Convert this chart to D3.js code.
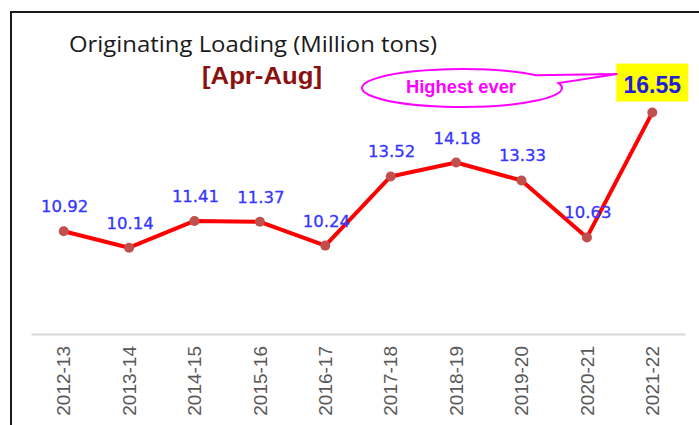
<!DOCTYPE html>
<html>
<head>
<meta charset="utf-8">
<script src="https://cdn.jsdelivr.net/npm/d3@7"></script>
<style>
  body { margin: 0; background: #fff; }
  svg { display: block; }
</style>
</head>
<body>
<div class="chart"></div>
<script>
var svgWidth = 699;
var svgHeight = 425;

// Data
var years = ["2012-13", "2013-14", "2014-15", "2015-16", "2016-17",
             "2017-18", "2018-19", "2019-20", "2020-21", "2021-22"];
var loading = [10.92, 10.14, 11.41, 11.37, 10.24, 13.52, 14.18, 13.33, 10.63, 16.55];
var yDomain = [6, 18];

var data = years.map(function (y, i) { return { year: y, value: loading[i] }; });
var last = data[data.length - 1];

var svg = d3.select(".chart")
  .append("svg")
  .attr("width", svgWidth)
  .attr("height", svgHeight);

// frame (left + top border)
svg.append("path")
  .attr("d", "M11,425 L11,12 L699,12")
  .attr("fill", "none")
  .attr("stroke", "#1a1a1a")
  .attr("stroke-width", 2);

// scales
var xScale = d3.scaleBand()
  .domain(years)
  .range([31, 685]);

var yScale = d3.scaleLinear()
  .domain(yDomain)
  .range([335, 82]);

var cx = function (d) { return xScale(d.year) + xScale.bandwidth() / 2; };

// category axis
var bottomAxis = d3.axisBottom(xScale).tickSize(0).tickPadding(0);
var axisG = svg.append("g")
  .attr("transform", "translate(0, 334)")
  .call(bottomAxis);
axisG.select(".domain")
  .attr("stroke", "#d9d9d9")
  .attr("stroke-width", 2);
axisG.selectAll(".tick text")
  .attr("transform", "translate(0, 12) rotate(-90)")
  .attr("text-anchor", "end")
  .attr("x", 0)
  .attr("y", 0)
  .attr("dy", "0.35em")
  .attr("fill", "#595959")
  .style("font-family", "Liberation Sans, Arial, sans-serif")
  .style("font-size", "19px");

// line
var line = d3.line()
  .x(cx)
  .y(function (d) { return yScale(d.value); });

svg.append("path")
  .datum(data)
  .attr("d", line)
  .attr("fill", "none")
  .attr("stroke", "#ff0000")
  .attr("stroke-width", 4)
  .attr("stroke-linejoin", "round");

svg.selectAll("circle.pt")
  .data(data)
  .enter()
  .append("circle")
  .attr("class", "pt")
  .attr("cx", cx)
  .attr("cy", function (d) { return yScale(d.value); })
  .attr("r", 5)
  .attr("fill", "#c0504d");

// data labels
svg.selectAll("text.lbl")
  .data(data.slice(0, data.length - 1))
  .enter()
  .append("text")
  .attr("class", "lbl")
  .attr("x", function (d) { return cx(d) + 1; })
  .attr("y", function (d) { return yScale(d.value) - 19; })
  .attr("text-anchor", "middle")
  .attr("fill", "#3535ff")
  .attr("stroke", "#3535ff")
  .attr("stroke-width", 0.3)
  .style("font-family", "DejaVu Sans, sans-serif")
  .style("font-size", "16.5px")
  .text(function (d) { return d.value.toFixed(2); });

// highlighted last label
var hx = cx(last);
var hy = yScale(last.value);
svg.append("rect")
  .attr("x", hx - 36)
  .attr("y", hy - 49)
  .attr("width", 72)
  .attr("height", 38)
  .attr("fill", "#ffff00");
svg.append("text")
  .attr("x", hx)
  .attr("y", hy - 20)
  .attr("text-anchor", "middle")
  .attr("fill", "#2020d8")
  .style("font-family", "Liberation Sans, Arial, sans-serif")
  .style("font-weight", "bold")
  .style("font-size", "23px")
  .text(last.value.toFixed(2));

// callout
var ecx = 462, ecy = 88, erx = 100, ery = 19;
function ept(deg) {
  var a = deg * Math.PI / 180;
  return [ecx + erx * Math.cos(a), ecy - ery * Math.sin(a)];
}
var p1 = ept(42), p2 = ept(15);
var tip = [hx - 35, 74];
svg.append("path")
  .attr("d", "M" + p1 + " L" + tip + " L" + p2 +
    " A" + erx + "," + ery + " 0 1 1 " + p1 + " Z")
  .attr("fill", "#fff")
  .attr("stroke", "#ff00ff")
  .attr("stroke-width", 2);
svg.append("text")
  .attr("x", 461)
  .attr("y", 93)
  .attr("text-anchor", "middle")
  .attr("fill", "#ff00ff")
  .attr("textLength", 110)
  .attr("lengthAdjust", "spacingAndGlyphs")
  .style("font-family", "Liberation Sans, Arial, sans-serif")
  .style("font-weight", "bold")
  .style("font-size", "18px")
  .text("Highest ever");

// titles
svg.append("text")
  .attr("x", 253)
  .attr("y", 52)
  .attr("text-anchor", "middle")
  .attr("fill", "#1a1a1a")
  .attr("textLength", 368)
  .attr("lengthAdjust", "spacingAndGlyphs")
  .style("font-family", "Open Sans, sans-serif")
  .style("font-size", "21px")
  .text("Originating Loading (Million tons)");

svg.append("text")
  .attr("x", 262)
  .attr("y", 84)
  .attr("text-anchor", "middle")
  .attr("fill", "#8b1010")
  .attr("textLength", 120)
  .attr("lengthAdjust", "spacingAndGlyphs")
  .style("font-family", "Liberation Sans, Arial, sans-serif")
  .style("font-weight", "bold")
  .style("font-size", "23px")
  .text("[Apr-Aug]");
</script>
</body>
</html>
